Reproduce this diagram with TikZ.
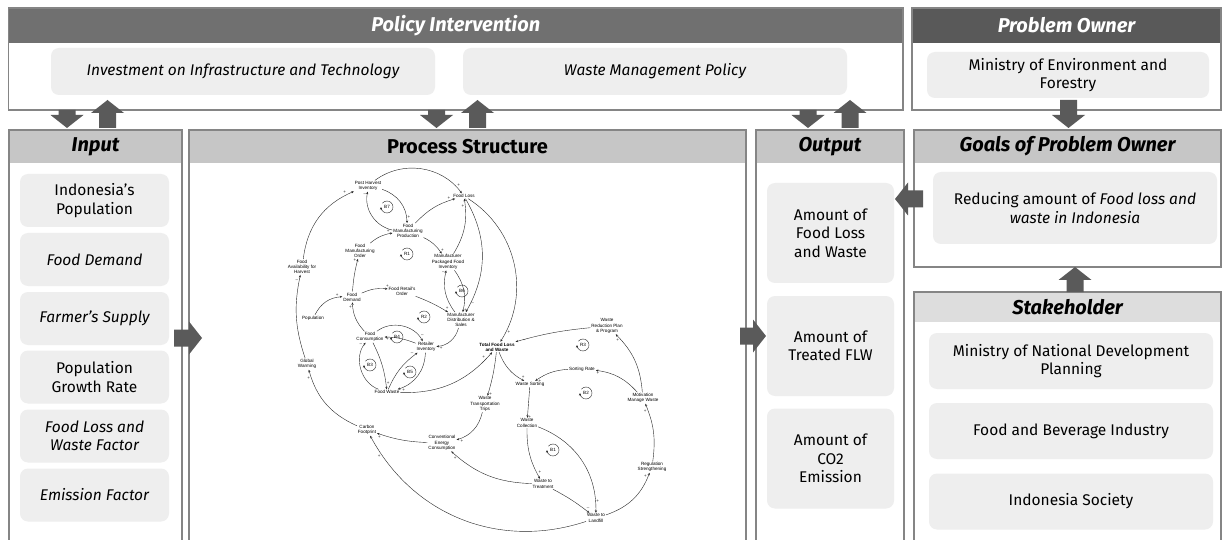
\documentclass[tikz,border=0pt]{standalone}
\usepackage{fontspec}
\setmainfont{Fira Sans}
\newfontfamily\cldfamily{Liberation Sans}
\usetikzlibrary{arrows.meta}

\definecolor{darkhead}{HTML}{707070}
\definecolor{ownerhead}{HTML}{595959}
\definecolor{lighthead}{HTML}{C6C6C6}
\definecolor{palehead}{HTML}{DDDDDD}
\definecolor{boxfill}{HTML}{EEEEEE}
\definecolor{framegray}{HTML}{858585}
\definecolor{arrowgray}{HTML}{5A5A5A}

\newcommand{\cldsize}{\cldfamily\fontsize{4.6}{5.2}\selectfont}
% block arrow: tail point, direction, length
\newcommand{\bigarrow}[3]{\fill[arrowgray, shift={(#1)}, rotate=#2]
  (0,-8.5) -- ({#3-13},-8.5) -- ({#3-13},-16.5) -- (#3,0) -- ({#3-13},16.5) -- ({#3-13},8.5) -- (0,8.5) -- cycle;}

\begin{document}
\begin{tikzpicture}[
        x=1pt, y=1pt,
        frame/.style   = {draw=framegray, line width=1.1pt},
        headtxt/.style = {font=\fontsize{20}{22}\selectfont\bfseries\itshape},
        item/.style    = {fill=boxfill, rounded corners=8pt, align=center, inner sep=0pt,
                          font=\fontsize{15.5}{18.5}\selectfont},
        var/.style     = {font=\cldsize, align=center, inner sep=0.8pt},
        link/.style    = {-{Stealth[length=2.6pt,width=2.2pt]}, line width=0.4pt, black!85},
        sgn/.style     = {pos=0.92, auto, inner sep=0.6pt, font=\cldfamily\fontsize{4.5}{4.5}\selectfont},
        loopsgn/.style = {font=\cldsize, inner sep=0pt}
    ]
    \useasboundingbox (0,0) rectangle (1224,-540);
    \fill[white] (0,0) rectangle (1224,-540);
    \clip (0,0) rectangle (1224,-540);

    % top row
    \fill[darkhead] (8.5,-8) rectangle (903,-43);
    \draw[frame] (8.5,-8) rectangle (903,-110);
    \node[headtxt, text=white] (polhead) at (455.75,-25.5) {Policy Intervention};
    \node[item, minimum width=384pt, minimum height=47pt] (invest) at (243,-71.5) {\itshape Investment on Infrastructure and Technology};
    \node[item, minimum width=384pt, minimum height=47pt] (wastepol) at (655,-71.5) {\itshape Waste Management Policy};

    \fill[ownerhead] (912,-8) rectangle (1221,-43);
    \draw[frame] (912,-8) rectangle (1221,-110);
    \node[headtxt, text=white] (ownhead) at (1066.5,-25.5) {Problem Owner};
    \node[item, minimum width=282pt, minimum height=46pt] (ministry) at (1068,-75) {Ministry of Environment and\\Forestry};

    % panels
    \fill[lighthead] (9,-130) rectangle (182,-163);
    \draw[frame] (9,-130) rectangle (182,-548);
    \node[headtxt] (inhead) at (95.5,-146.5) {Input};

    \fill[lighthead] (189,-130) rectangle (746,-163);
    \draw[frame] (189,-130) rectangle (746,-548);
    \node[headtxt, font=\fontsize{20}{22}\selectfont\bfseries] (prochead) at (467.5,-146.5) {Process Structure};

    \fill[lighthead] (756,-130) rectangle (904,-163);
    \draw[frame] (756,-130) rectangle (904,-548);
    \node[headtxt] (outhead) at (830,-146.5) {Output};

    \fill[lighthead] (914,-130) rectangle (1221,-163);
    \draw[frame] (914,-130) rectangle (1221,-267);
    \node[headtxt] (goalhead) at (1067.5,-146.5) {Goals of Problem Owner};
    \node[item, minimum width=284pt, minimum height=72pt] (goal) at (1075,-208) {Reducing amount of \textit{Food loss and}\\\textit{waste in Indonesia}};

    \fill[palehead] (914,-292) rectangle (1221,-322);
    \draw[frame] (914,-292) rectangle (1221,-548);
    \node[headtxt] (stakehead) at (1067.5,-307) {Stakeholder};

    % input items
    \node[item, minimum width=149pt, minimum height=53pt] (popin)   at (94.5,-200.5) {Indonesia’s\\Population};
    \node[item, minimum width=149pt, minimum height=53pt] (demin)   at (94.5,-259.5) {\itshape Food Demand};
    \node[item, minimum width=149pt, minimum height=53pt] (supin)   at (94.5,-318.5) {\itshape Farmer’s Supply};
    \node[item, minimum width=149pt, minimum height=53pt] (growin)  at (94.5,-377)   {Population\\Growth Rate};
    \node[item, minimum width=149pt, minimum height=53pt] (factin)  at (94.5,-436)   {\itshape Food Loss and\\\itshape Waste Factor};
    \node[item, minimum width=149pt, minimum height=53pt] (emisin)  at (94.5,-495)   {\itshape Emission Factor};

    % output items
    \node[item, minimum width=127pt, minimum height=100pt] (flwout) at (830.5,-233)   {Amount of\\Food Loss\\and Waste};
    \node[item, minimum width=127pt, minimum height=100pt] (trtout) at (830.5,-346)   {Amount of\\Treated FLW};
    \node[item, minimum width=127pt, minimum height=100pt] (co2out) at (830.5,-458.5) {Amount of\\CO2\\Emission};

    % stakeholders
    \node[item, minimum width=284pt, minimum height=56pt] (bappenas) at (1071,-361)   {Ministry of National Development\\Planning};
    \node[item, minimum width=284pt, minimum height=56pt] (industry) at (1071,-431)   {Food and Beverage Industry};
    \node[item, minimum width=284pt, minimum height=56pt] (society)  at (1071,-501.5) {Indonesia Society};

    % causal loop diagram
    \node[var] (phi)   at (368,-186) {Post Harvest\\Inventory};
    \node[var] (floss) at (464,-196) {Food Loss};
    \node[var] (fmp)   at (408,-231) {Food\\Manufacturing\\Production};
    \node[var] (fmo)   at (360,-251) {Food\\Manufacturing\\Order};
    \node[var] (mpfi)  at (448,-262) {Manufacturer\\Packaged Food\\Inventory};
    \node[var] (fah)   at (302,-267) {Food\\Availability for\\Harvest};
    \node[var] (fd)    at (352,-297) {Food\\Demand};
    \node[var] (fro)   at (402,-291) {Food Retail's\\Order};
    \node[var] (pop)   at (313,-318) {Population};
    \node[var] (mds)   at (461,-320) {Manufacturer\\Distribution \&\\Sales};
    \node[var] (fc)    at (370,-337) {Food\\Consumption};
    \node[var] (ri)    at (426,-347) {Retailer\\Inventory};
    \node[var, font=\cldsize\bfseries] (tflw) at (497,-347) {Total Food Loss\\and Waste};
    \node[var] (gw)    at (307,-364) {Global\\Warming};
    \node[var] (fw)    at (387,-392) {Food Waste};
    \node[var] (wtt)   at (485,-404) {Waste\\Transportation\\Trips};
    \node[var] (cf)    at (367,-430) {Carbon\\Footprint};
    \node[var] (cec)   at (442,-443) {Conventional\\Energy\\Consumption};
    \node[var] (wrpp)  at (607,-326) {Waste\\Reduction Plan\\\& Program};
    \node[var] (sr)    at (582,-369) {Sorting Rate};
    \node[var] (ws)    at (530,-384) {Waste Sorting};
    \node[var] (mmw)   at (643,-398) {Motivation\\Manage Waste};
    \node[var] (wc)    at (527,-423) {Waste\\Collection};
    \node[var] (rs)    at (652,-467) {Regulation\\Strengthening};
    \node[var] (wtr)   at (543,-484) {Waste to\\Treatment};
    \node[var] (wtl)   at (596,-518) {Waste to\\Landfill};

    \draw[link] (phi)   to[bend left=45] node[sgn]{+} (floss);
    \draw[link] (phi)   to[bend left=35] node[sgn]{+} (fmp);
    \draw[link] (fmp)   to[bend left=45] node[sgn]{–} (phi);
    \draw[link] (fah)   to[bend left=30] node[sgn]{+} (phi);
    \draw[link] (fmp)   to[bend left=15] node[sgn]{+} (floss);
    \draw[link] (fmp)   to[bend left=15] node[sgn]{+} (mpfi);
    \draw[link] (fmo)   to[bend left=15] node[sgn]{+} (fmp);
    \draw[link] (fd)    to[bend left=5]  node[sgn]{+} (fmo);
    \draw[link] (pop)   to[bend left=30] node[sgn]{+} (fd);
    \draw[link] (fd)    to[bend left=15] node[sgn]{+} (fro);
    \draw[link] (fro)   to[bend left=5]  node[sgn]{+} (mds);
    \draw[link] (mpfi)  to[bend right=20] node[sgn]{+} (floss);
    \draw[link] (mpfi)  to[bend left=25] node[sgn]{+} (mds);
    \draw[link] (mds)   to[bend left=25] node[sgn]{–} (mpfi);
    \draw[link] (floss) to[bend left=30] node[sgn]{–} (mds);
    \draw[link] (floss) to[bend left=45] node[sgn]{+} (tflw);
    \draw[link] (mds)   to[bend left=35] node[sgn]{+} (ri);
    \draw[link] (ri)    to[bend right=10] node[sgn]{+} (fc);
    \draw[link] (fc)    to[bend left=20] node[sgn]{+} (fd);
    \draw[link] (fc)    to[bend left=50] node[sgn]{–} (ri);
    \draw[link] (fc)    to[bend left=10] node[sgn]{+} (fw);
    \draw[link] (fw)    to[bend left=55] node[sgn]{–} (fc);
    \draw[link] (fw)    to[bend left=15] node[sgn]{–} (ri);
    \draw[link] (ri)    to[bend left=35] node[sgn]{+} (fw);
    \draw[link] (fw)    to[bend right=25] node[sgn]{+} (tflw);
    \draw[link] (tflw)  to[bend left=5]  node[sgn]{+} (wtt);
    \draw[link] (tflw)  to[bend right=20] node[sgn]{+} (ws);
    \draw[link] (wtt)   to[bend left=30] node[sgn]{+} (cec);
    \draw[link] (cec)   to[bend left=8]  node[sgn]{+} (cf);
    \draw[link] (cf)    to[bend left=25] node[sgn]{+} (gw);
    \draw[link] (gw)    to[bend left=15] node[sgn]{–} (fah);
    \draw[link] (wtl)   to[bend left=40] node[sgn]{+} (cf);
    \draw[link] (wtr)   to[bend left=20] node[sgn]{+} (cec);
    \draw[link] (mmw)   to[bend right=20] node[sgn]{+} (wrpp);
    \draw[link] (wrpp)  to[bend right=5] node[sgn]{–} (tflw);
    \draw[link] (mmw)   to[bend right=20] node[sgn]{+} (sr);
    \draw[link] (sr)    to[bend right=15] node[sgn]{+} (ws);
    \draw[link] (ws)    -- node[sgn]{+} (wc);
    \draw[link] (wc)    to[bend right=15] node[sgn]{+} (wtr);
    \draw[link] (wc)    to[bend left=35] node[sgn]{+} (wtl);
    \draw[link] (wtr)   to[bend left=5]  node[sgn]{–} (wtl);
    \draw[link] (wtl)   to[bend right=25] node[sgn]{+} (rs);
    \draw[link] (rs)    to[bend right=15] node[sgn]{+} (mmw);

    % loop markers
    \foreach \lname/\lx/\ly/\ltext in {lr1/407/254/R1, lb7/387/207/B7, lb6/462/291/B6, lr2/424/317/R2,
            lb4/397/337/B4, lb3/370/365/B3, lb5/410/372/B5, lr3/583/345/R3, lb2/586/393/B2, lb1/553/450/B1} {
        \node[loopsgn] (\lname) at (\lx,-\ly) {\ltext};
        \draw[link] ([shift={(140:6)}]\lname.center) arc[start angle=140, end angle=-180, radius=6];
    }

    % block arrows
    \bigarrow{67,-110}{-90}{18}
    \bigarrow{107.5,-128}{90}{28}
    \bigarrow{436.5,-110}{-90}{18}
    \bigarrow{477.5,-128}{90}{28}
    \bigarrow{808,-110}{-90}{18}
    \bigarrow{850,-128}{90}{28}
    \bigarrow{1068.5,-100}{-90}{28}
    \bigarrow{1075,-292}{90}{25}
    \bigarrow{174,-338}{0}{28}
    \bigarrow{740,-336}{0}{26}
    \bigarrow{923,-199}{180}{28}
\end{tikzpicture}
\end{document}
